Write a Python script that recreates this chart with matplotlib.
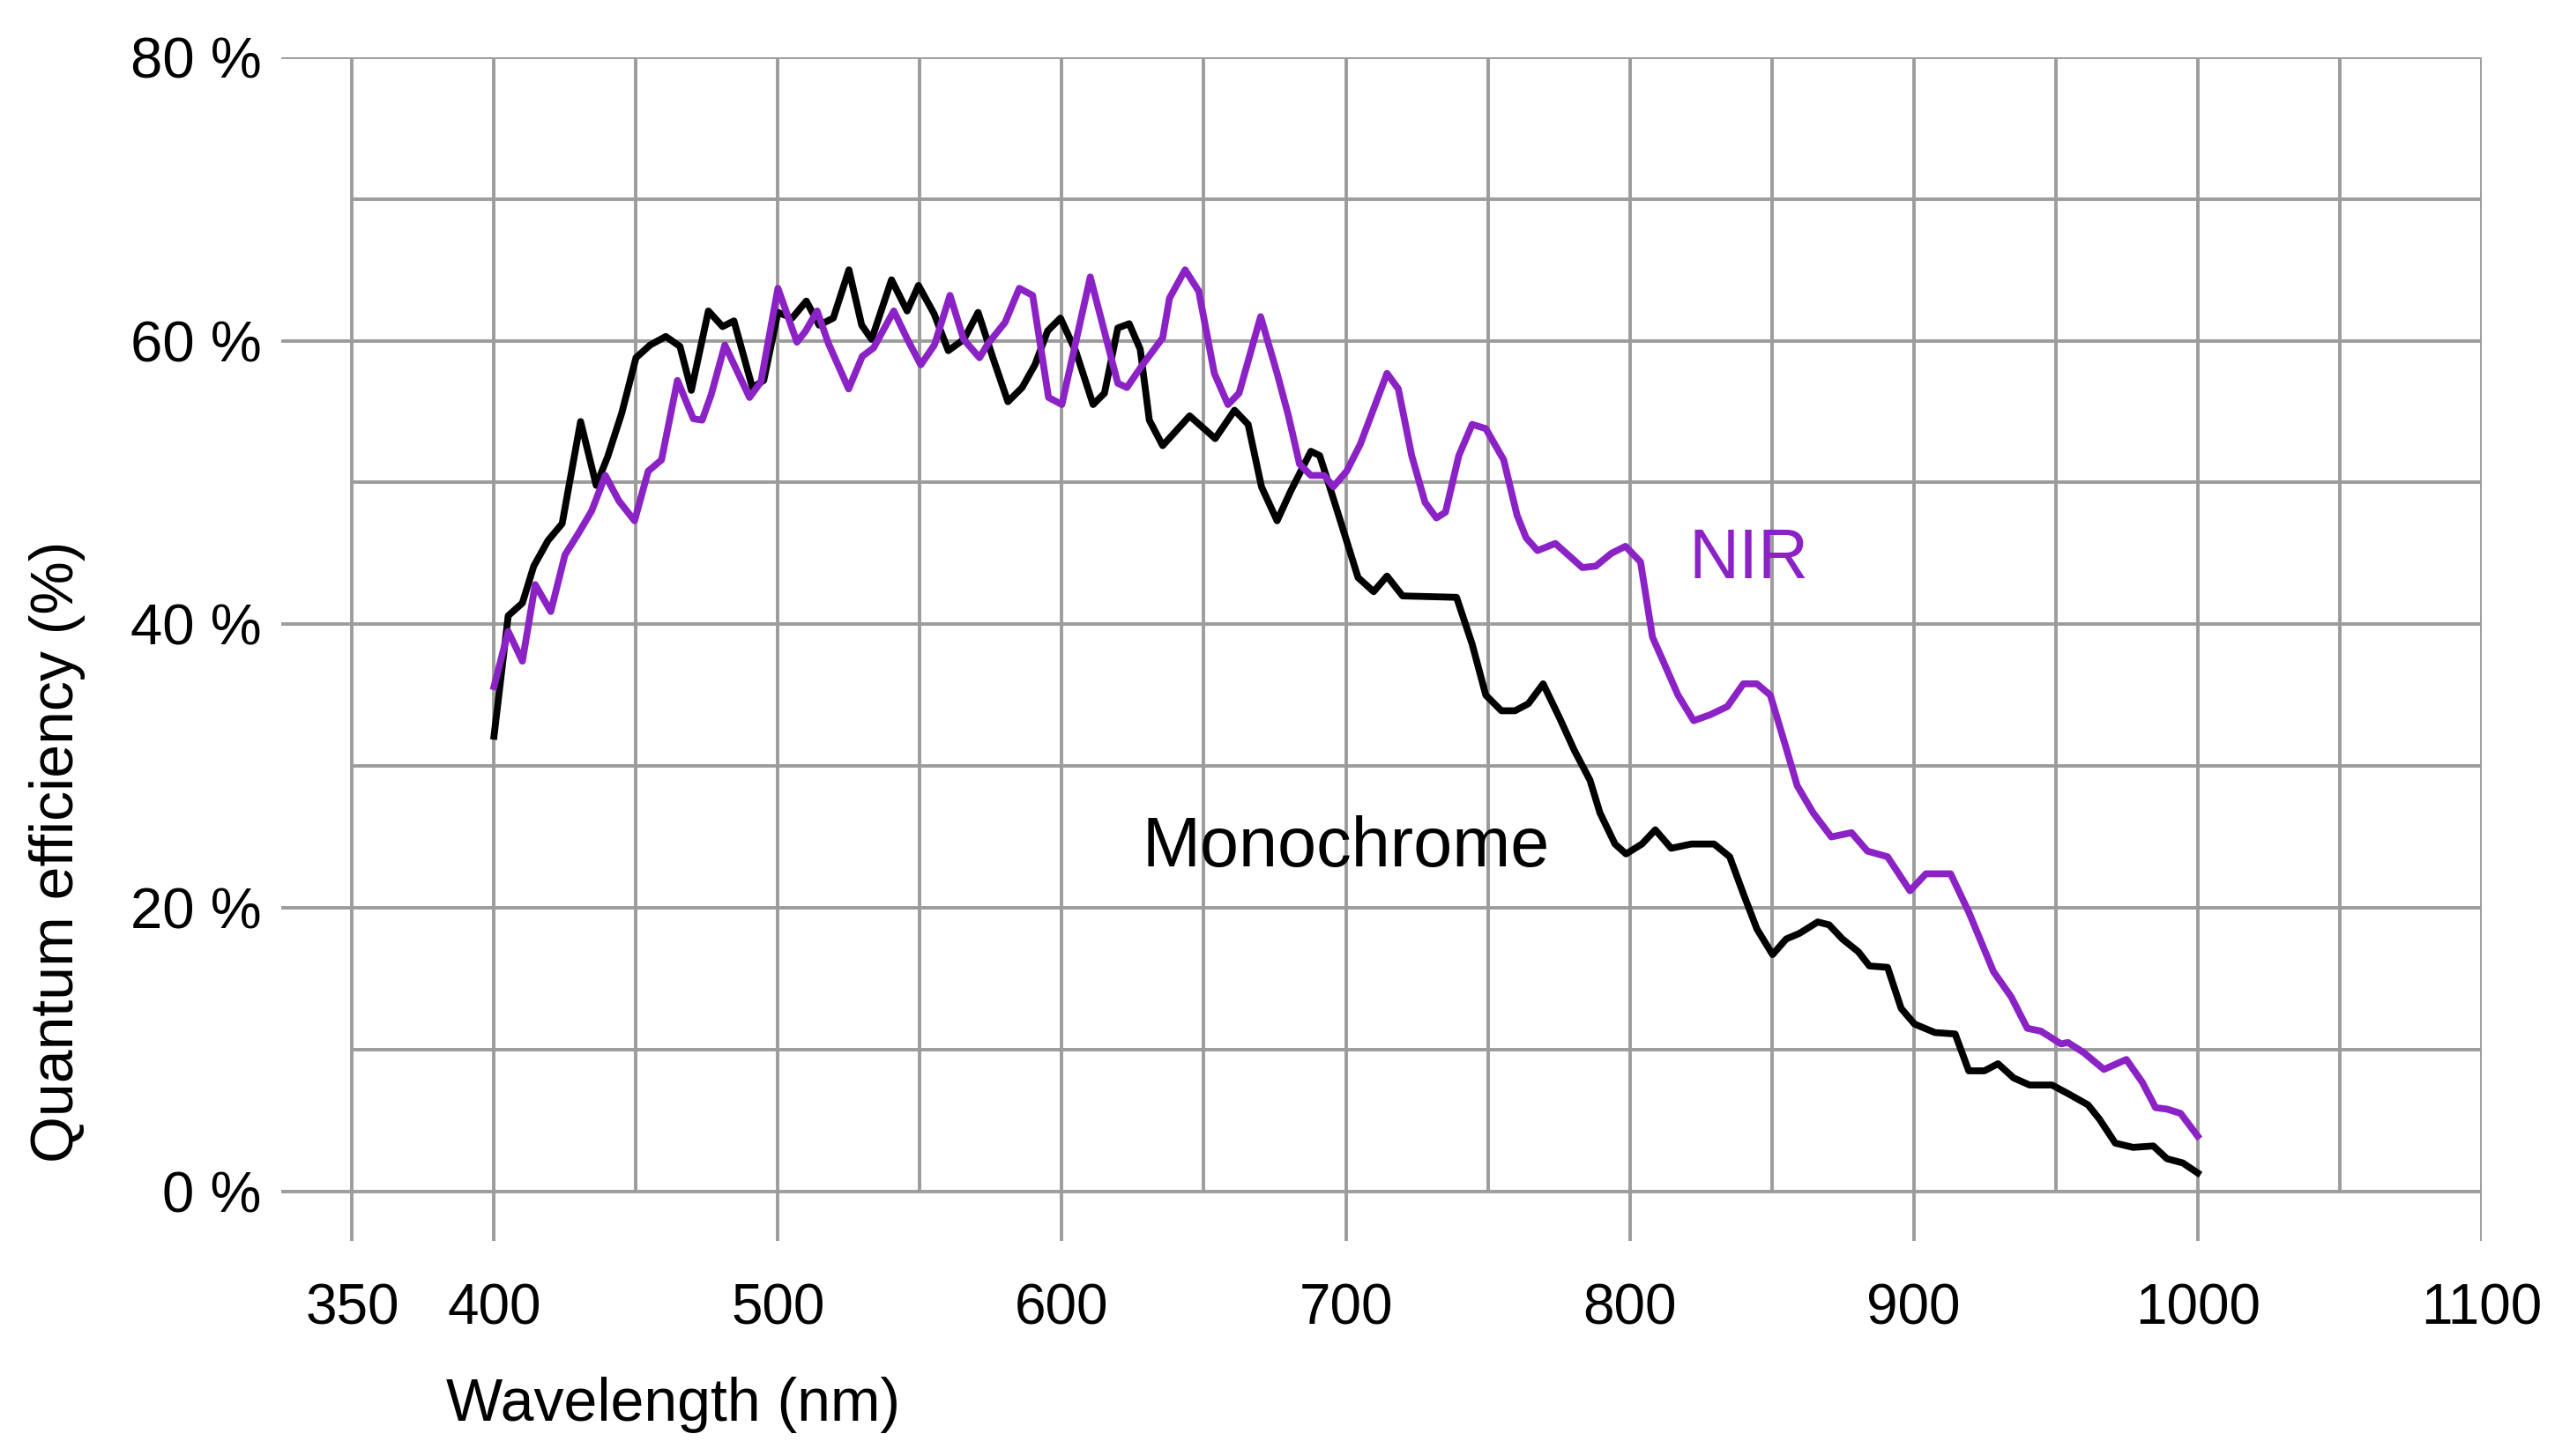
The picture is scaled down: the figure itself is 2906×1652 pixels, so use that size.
import matplotlib
matplotlib.use('Agg')
import matplotlib.pyplot as plt
import numpy as np

# Monochrome curve (wavelength nm, QE %)
mono_nm = [400, 405, 410, 414, 419, 424, 430.5, 436, 440, 445,
           450, 455, 460.5, 465.5, 469.5, 475.5, 480.5, 484.5, 491, 495,
           500, 505, 510, 514.5, 519.5, 525, 529.5, 533, 540, 545.5,
           549.5, 555, 560, 565.5, 570.5, 575.7, 581, 586, 590.5, 595,
           599.5, 605, 611, 615, 619.7, 623.7, 627.6, 630.8, 635.5, 645,
           654, 660.8, 665.6, 670.3, 675.8, 680.6, 687.7, 690.8, 694, 698.7,
           704.3, 709.8, 714.5, 720, 739, 744.5, 749.3, 754.8, 759.6, 764.3,
           769.5, 775.5, 780.5, 786, 789.5, 794.8, 798.7, 804.3, 809, 814.6,
           821.7, 829.7, 835.2, 840, 844.8, 850.3, 855.1, 859.8, 866.2, 870.2,
           874.9, 880.5, 884.4, 890.8, 895.6, 900.3, 907.5, 914.6, 919.4, 924.9,
           929.7, 935.2, 940.8, 948.7, 954.3, 961.4, 965.4, 971, 977.3, 984.4,
           989.2, 994.8, 1000]
mono_qe = [32.1, 40.6, 41.5, 44.1, 45.9, 47.1, 54.3, 49.8, 51.8, 54.9,
           58.8, 59.7, 60.3, 59.6, 56.5, 62.1, 61.0, 61.4, 56.7, 57.2,
           62.0, 61.6, 62.8, 61.1, 61.6, 65.0, 61.1, 60.1, 64.3, 62.1,
           63.9, 61.9, 59.3, 60.1, 62.0, 58.8, 55.7, 56.7, 58.3, 60.7,
           61.6, 59.2, 55.5, 56.3, 60.9, 61.2, 59.4, 54.4, 52.6, 54.7,
           53.1, 55.1, 54.1, 49.7, 47.3, 49.4, 52.2, 51.9, 49.9, 46.9,
           43.3, 42.3, 43.4, 42.0, 41.9, 38.6, 35.0, 33.9, 33.9, 34.4,
           35.8, 33.3, 31.1, 29.0, 26.7, 24.5, 23.8, 24.5, 25.5, 24.2,
           24.5, 24.5, 23.6, 21.0, 18.5, 16.7, 17.8, 18.2, 19.0, 18.8,
           17.8, 16.9, 15.9, 15.8, 12.9, 11.8, 11.2, 11.1, 8.5, 8.5,
           9.0, 8.0, 7.5, 7.5, 6.9, 6.1, 5.1, 3.4, 3.1, 3.2,
           2.3, 2.0, 1.3]

# NIR curve
nir_nm = [400, 405, 410, 414.5, 420, 425, 429.7, 434.4, 439.2, 444,
          449.5, 454.3, 459, 464.6, 470.2, 473.3, 476.5, 481.3, 490, 494,
          500, 506.7, 509.8, 513.8, 517.8, 524.9, 529.7, 533.7, 540.8, 545.6,
          550.3, 555.1, 560.6, 565.4, 571, 574, 580, 585, 589.7, 595.3,
          600, 610, 619.7, 622.9, 628.4, 635.5, 637.9, 643.4, 648.2, 653.7,
          658.5, 662.4, 670, 675.8, 679.8, 683.7, 687.7, 692.4, 695.6, 700.3,
          705.1, 709.8, 714.5, 718.5, 723.2, 727.9, 731.9, 735.1, 739.8, 744.5,
          749.3, 755.6, 760.3, 763.5, 767.5, 773.8, 783.3, 788, 793.5, 798.5,
          803.8, 808, 812.2, 817, 822.5, 828.1, 834.4, 840, 844.8, 849.5,
          854.3, 859, 864.6, 871, 878.1, 883.7, 890.8, 898.7, 904.3, 913,
          919.4, 928.1, 934.4, 940, 944.8, 951.9, 954.3, 959.8, 967, 974.9,
          980.5, 985.2, 989.2, 994, 1000]
nir_qe = [35.6, 39.5, 37.4, 42.8, 40.9, 44.9, 46.4, 48.0, 50.5, 48.7,
          47.3, 50.8, 51.6, 57.2, 54.5, 54.4, 56.2, 59.7, 56.0, 57.1,
          63.7, 59.9, 60.7, 62.1, 59.8, 56.6, 58.9, 59.5, 62.1, 60.1,
          58.3, 59.7, 63.2, 60.1, 58.8, 59.8, 61.3, 63.7, 63.2, 56.0,
          55.5, 64.5, 57.0, 56.7, 58.3, 60.2, 63.0, 65.0, 63.5, 57.7,
          55.5, 56.3, 61.7, 57.7, 54.7, 51.3, 50.5, 50.5, 49.7, 50.8,
          52.7, 55.2, 57.7, 56.6, 51.9, 48.6, 47.5, 47.9, 51.9, 54.1,
          53.8, 51.6, 47.7, 46.1, 45.2, 45.7, 44.0, 44.1, 45.0, 45.5,
          44.4, 39.1, 37.2, 35.0, 33.2, 33.6, 34.2, 35.8, 35.8, 35.0,
          31.8, 28.6, 26.7, 25.0, 25.3, 24.0, 23.6, 21.2, 22.4, 22.4,
          19.7, 15.5, 13.7, 11.5, 11.3, 10.4, 10.5, 9.8, 8.6, 9.3,
          7.7, 5.9, 5.8, 5.5, 3.9]

x_labels = [350, 400, 500, 600, 700, 800, 900, 1000, 1100]
y_labels = [0, 20, 40, 60, 80]

purple = '#8b22c6'
grid_col = '#9c9c9c'
grid_lw = 1.4

plt.rcParams['font.family'] = ['Liberation Sans', 'DejaVu Sans']

fig = plt.figure(figsize=(14.53, 8.26), dpi=200)
ax = fig.add_axes([0.1097, 0.1477, 0.8589, 0.813])
ax.set_xlim(325, 1100)
ax.set_ylim(-3.5, 80)
for s in ax.spines.values():
    s.set_visible(False)

# grid: all verticals span 0-80, labelled ones run down to the labels
ax.vlines(np.arange(350, 1101, 50), 0, 80, color=grid_col, lw=grid_lw, zorder=1)
ax.vlines(x_labels, -3.5, 0, color=grid_col, lw=grid_lw, zorder=1)
ax.hlines(np.arange(0, 81, 20), 325, 1100, color=grid_col, lw=grid_lw, zorder=1)
ax.hlines(np.arange(10, 80, 20), 350, 1100, color=grid_col, lw=grid_lw, zorder=1)

ax.plot(mono_nm, mono_qe, color='black', lw=2.8, zorder=3)
ax.plot(nir_nm, nir_qe, color=purple, lw=2.8, zorder=3)

ax.set_xticks(x_labels)
ax.set_xticklabels([str(v) for v in x_labels], fontsize=23)
ax.set_yticks(y_labels)
ax.set_yticklabels(['%d %%' % v for v in y_labels], fontsize=23.5)
ax.tick_params(axis='x', length=0, pad=17)
ax.tick_params(axis='y', length=0, pad=8)

ax.text(700, 24.2, 'Monochrome', fontsize=28.5, ha='center', va='center', color='black')
ax.text(842, 44.5, 'NIR', fontsize=28.5, ha='center', va='center', color=purple)

fig.text(0.0225, 0.415, 'Quantum efficiency (%)', rotation=90, fontsize=24.5,
         ha='center', va='center')
fig.text(0.2627, 0.035, 'Wavelength (nm)', fontsize=24.5, ha='center', va='center')

fig.savefig('out.png', dpi=200)
